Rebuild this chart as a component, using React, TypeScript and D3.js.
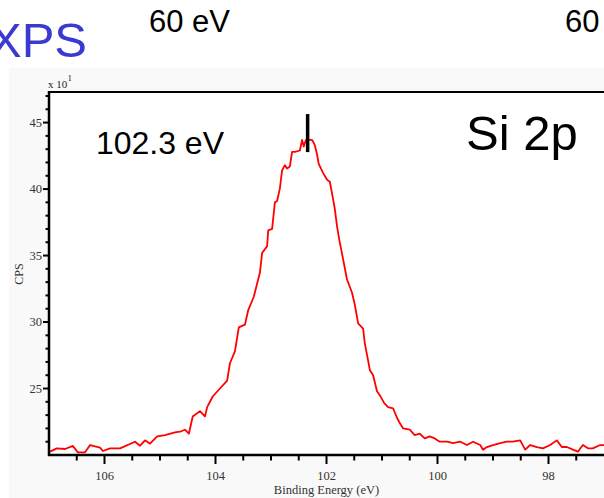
import React from "react";
import * as d3 from "d3";

// Binding energy (eV) and counts (x10^1 CPS)
const energies = [
  106.98, 106.86, 106.71, 106.57, 106.48, 106.35, 106.26, 106.08, 106.03, 105.9,
  105.72, 105.45, 105.36, 105.27, 105.18, 105.05, 104.91, 104.73, 104.64, 104.55,
  104.48, 104.41, 104.28, 104.19, 104.15, 104.05, 103.92, 103.79, 103.74, 103.65,
  103.58, 103.47, 103.41, 103.31, 103.25, 103.2, 103.16, 103.07, 103.05, 102.98,
  102.93, 102.89, 102.84, 102.8, 102.75, 102.71, 102.66, 102.62, 102.57, 102.48,
  102.44, 102.41, 102.37, 102.26, 102.21, 102.17, 102.14, 102.06, 101.99, 101.94,
  101.88, 101.85, 101.81, 101.77, 101.63, 101.54, 101.49, 101.43, 101.34, 101.31,
  101.25, 101.22, 101.16, 101.09, 101.04, 100.96, 100.89, 100.8, 100.73, 100.68,
  100.62, 100.5, 100.41, 100.32, 100.23, 100.14, 100.05, 99.96, 99.83, 99.72,
  99.59, 99.47, 99.36, 99.23, 99.18, 99.11, 99.0, 98.87, 98.75, 98.64,
  98.51, 98.42, 98.33, 98.21, 98.1, 97.97, 97.85, 97.76, 97.67, 97.56,
  97.47, 97.38, 97.29, 97.2, 97.07, 97.0,
];
const counts = [
  20.25, 20.5, 20.45, 20.68, 20.2, 20.2, 20.75, 20.55, 20.3, 20.5,
  20.5, 21.0, 20.7, 21.1, 20.85, 21.4, 21.5, 21.7, 21.75, 21.9,
  21.6, 22.9, 23.3, 22.9, 23.6, 24.4, 25.0, 25.6, 26.9, 27.8,
  29.6, 29.8, 30.9, 31.9, 32.9, 33.7, 35.2, 35.7, 36.9, 37.0,
  39.0, 39.1, 40.05, 41.4, 41.8, 41.55, 41.7, 42.8, 42.8, 42.9,
  43.7, 43.2, 43.7, 43.7, 43.3, 42.6, 41.9, 41.2, 40.7, 40.55,
  39.2, 38.5, 37.2, 36.2, 33.2, 32.2, 31.3, 29.9, 29.5, 28.4,
  27.1, 26.4, 26.0, 24.8, 24.5, 23.9, 23.6, 23.5, 22.8, 22.4,
  22.0, 21.9, 21.5, 21.6, 21.25, 21.4, 21.25, 21.0, 21.0, 20.9,
  21.0, 20.75, 21.0, 20.75, 20.4, 20.6, 20.75, 20.9, 21.0, 21.0,
  21.1, 20.4, 20.75, 20.6, 20.5, 20.75, 21.1, 20.6, 20.6, 20.4,
  20.25, 20.75, 20.5, 20.5, 20.75, 20.75,
];

const xMajorTicks = [106, 104, 102, 100, 98];
const xMinorTicks = [106.5, 105.5, 105, 104.5, 103.5, 103, 102.5, 101.5, 101, 100.5, 99.5, 99, 98.5, 97.5];
const yMajorTicks = [25, 30, 35, 40, 45];
const yMinorTicks = [21, 22, 23, 24, 26, 27, 28, 29, 31, 32, 33, 34, 36, 37, 38, 39, 41, 42, 43, 44, 46, 47];

const peakLabel = "102.3 eV";
const peakMarkEnergy = 102.34;
const peakMarkRange = [42.78, 45.64];

const W = 604;
const H = 498;
const left = 49;
const right = 604;
const top = 92;
const bottom = 455;

export default function App() {
  const x = d3.scaleLinear().domain([107, 97]).range([left, right]);
  const y = d3.scaleLinear().domain([20, 47.3]).range([bottom, top]);
  const pts = energies.map((e, i) => [e, counts[i]] as [number, number]);
  const line = d3
    .line<[number, number]>()
    .x((d) => x(d[0]))
    .y((d) => y(d[1]));

  const serif = "'Liberation Serif', 'DejaVu Serif', serif";
  const sans = "'Liberation Sans', Arial, sans-serif";

  return (
    <svg
      width={W}
      height={H}
      style={{ position: "absolute", left: 0, top: 0, background: "#ffffff" }}
    >
      <rect x={9} y={68} width={W - 9} height={H - 68} fill="#f9f9f9" />
      <rect x={left} y={top} width={right - left} height={bottom - top} fill="#ffffff" />

      {/* slide titles */}
      <text x={-11} y={56.5} fontFamily={sans} fontSize={49} fill="#3a3ad0">
        XPS
      </text>
      <text x={149} y={31.5} fontFamily={sans} fontSize={31} fill="#000">
        60 eV
      </text>
      <text x={565} y={31.5} fontFamily={sans} fontSize={31} fill="#000">
        60 eV
      </text>

      {/* multiplier */}
      <text x={48} y={88} fontFamily={serif} fontSize={11} fill="#222">
        x 10
      </text>
      <text x={67.5} y={81} fontFamily={serif} fontSize={9} fill="#222">
        1
      </text>

      {/* curve */}
      <path d={line(pts) || ""} fill="none" stroke="#ff0000" strokeWidth={1.8} strokeLinejoin="round" />

      {/* frame */}
      <line x1={left} x2={right} y1={top} y2={top} stroke="#000" strokeWidth={2} />
      <line x1={left} x2={left} y1={top - 1} y2={bottom + 1} stroke="#000" strokeWidth={2.5} />
      <line x1={left - 1} x2={right} y1={bottom} y2={bottom} stroke="#000" strokeWidth={2.5} />

      {/* y ticks */}
      {yMajorTicks.map((t) => (
        <g key={"ym" + t}>
          <line x1={left - 6} x2={left} y1={y(t)} y2={y(t)} stroke="#000" strokeWidth={2} />
          <text x={42} y={y(t) + 4} textAnchor="end" fontFamily={serif} fontSize={12.5} fill="#333">
            {t}
          </text>
        </g>
      ))}
      {yMinorTicks.map((t) => (
        <line key={"yn" + t} x1={left - 3.5} x2={left} y1={y(t)} y2={y(t)} stroke="#000" strokeWidth={2} />
      ))}

      {/* x ticks */}
      {xMajorTicks.map((t) => (
        <g key={"xm" + t}>
          <line x1={x(t)} x2={x(t)} y1={bottom} y2={bottom + 9} stroke="#000" strokeWidth={2} />
          <text x={x(t)} y={480} textAnchor="middle" fontFamily={serif} fontSize={12.5} fill="#333">
            {t}
          </text>
        </g>
      ))}
      {xMinorTicks.map((t) => (
        <line key={"xn" + t} x1={x(t)} x2={x(t)} y1={bottom} y2={bottom + 5.5} stroke="#000" strokeWidth={2} />
      ))}

      {/* axis titles */}
      <text x={x(102)} y={494} textAnchor="middle" fontFamily={serif} fontSize={12.5} fill="#333">
        Binding Energy (eV)
      </text>
      <text
        transform={`translate(23, 274) rotate(-90)`}
        textAnchor="middle"
        fontFamily={serif}
        fontSize={12}
        fill="#333"
      >
        CPS
      </text>

      {/* annotations */}
      <line
        x1={x(peakMarkEnergy)}
        x2={x(peakMarkEnergy)}
        y1={y(peakMarkRange[1])}
        y2={y(peakMarkRange[0])}
        stroke="#000"
        strokeWidth={3.5}
      />
      <text x={224} y={154} textAnchor="end" fontFamily={sans} fontSize={32} fill="#000">
        {peakLabel}
      </text>
      <text x={466} y={150} fontFamily={sans} fontSize={49} fill="#000">
        Si 2p
      </text>
    </svg>
  );
}
